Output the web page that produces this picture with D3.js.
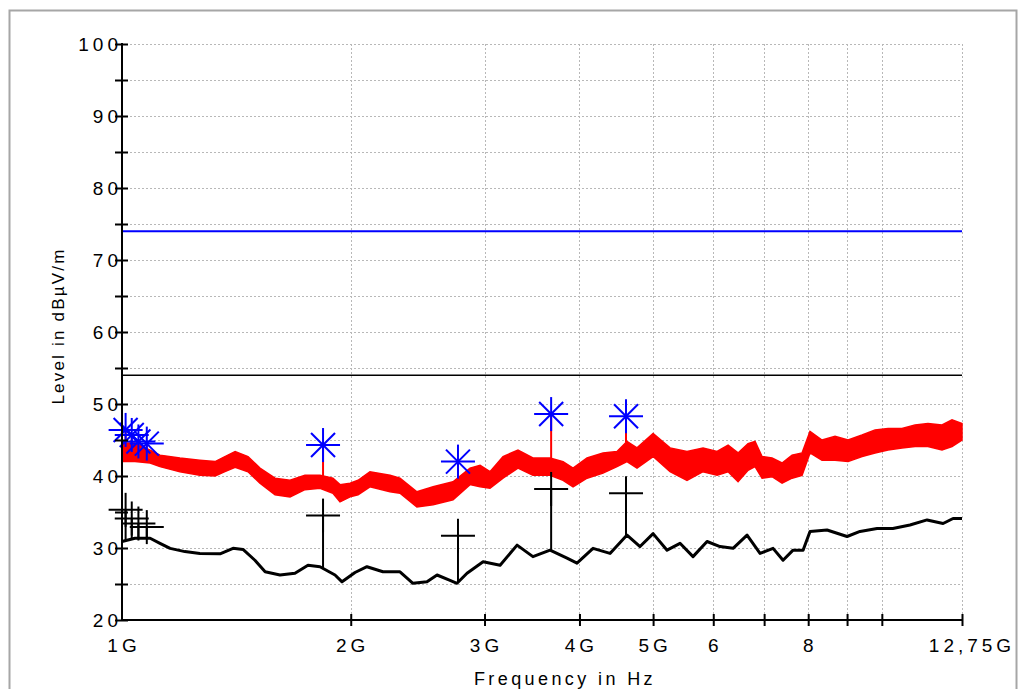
<!DOCTYPE html>
<html>
<head>
<meta charset="utf-8">
<script src="https://cdn.jsdelivr.net/npm/d3@7"></script>
<style>
  html, body { margin: 0; padding: 0; background: #fff; }
  svg { display: block; font-family: "Liberation Sans", Arial, sans-serif; }
</style>
</head>
<body>
<svg class="chart" width="1022" height="689"></svg>
<script>
// peak trace (red band), read as upper / lower envelope, GHz vs dBuV/m
var peakFreq = [1.000, 1.040, 1.089, 1.122, 1.192, 1.266, 1.326, 1.366, 1.409, 1.465, 1.519, 1.590, 1.664, 1.741, 1.822, 1.895, 1.936, 1.996, 2.045, 2.120, 2.253, 2.322, 2.444, 2.567, 2.727,
    2.871, 2.960, 3.050, 3.173, 3.320, 3.474, 3.659, 3.806, 3.923, 4.093, 4.296, 4.482, 4.620, 4.762, 5.000, 5.264, 5.541, 5.817, 6.070, 6.276, 6.468, 6.667, 6.810, 6.956, 7.170, 7.391, 7.618, 7.852,
    8.044, 8.342, 8.678, 9.028, 9.419, 9.797, 10.19, 10.63, 11.06, 11.50, 12.00, 12.37, 12.75];
var peakHi = [44.6, 44.6, 43.6, 42.9, 42.5, 42.2, 42.0, 42.7, 43.4, 42.7, 41.1, 39.7, 39.4, 40.1, 40.1, 39.7, 38.8, 39.0, 39.4, 40.6, 40.1, 39.7, 37.8, 38.5, 39.2,
    41.1, 41.5, 40.6, 42.7, 43.6, 42.5, 42.5, 42.0, 41.1, 42.5, 43.2, 43.4, 44.8, 43.9, 45.9, 43.9, 43.4, 43.9, 43.4, 44.3, 43.2, 44.5, 44.8, 42.7, 42.5, 41.8, 42.9, 43.2,
    46.2, 45.0, 45.5, 45.0, 45.7, 46.4, 46.6, 46.6, 47.1, 47.3, 47.1, 47.8, 47.3];
var peakLo = [42.0, 42.0, 41.8, 41.3, 40.6, 40.1, 40.0, 40.6, 41.2, 40.6, 39.0, 37.4, 37.1, 38.1, 38.3, 37.6, 36.4, 37.1, 37.4, 38.5, 37.8, 37.6, 35.7, 36.0, 36.7,
    38.8, 38.5, 38.3, 39.7, 41.1, 40.1, 40.1, 39.4, 38.5, 39.7, 40.4, 41.3, 42.0, 41.1, 42.7, 40.6, 39.4, 40.6, 40.1, 40.6, 39.2, 40.8, 41.3, 39.7, 39.9, 39.0, 39.7, 40.1,
    43.2, 42.2, 42.2, 42.0, 42.7, 43.2, 43.6, 43.9, 44.1, 44.1, 43.6, 44.1, 45.0];

// average trace (black)
var avgFreq = [1.000, 1.040, 1.089, 1.122, 1.157, 1.210, 1.266, 1.346, 1.400, 1.443, 1.496, 1.543, 1.614, 1.689, 1.757, 1.822, 1.907, 1.948, 2.026, 2.101, 2.205, 2.322, 2.415, 2.520, 2.598, 2.702, 2.760, 2.845, 2.987, 3.145, 3.311, 3.474, 3.659, 3.852, 3.970, 4.168, 4.388, 4.620, 4.806, 5.000, 5.216, 5.425, 5.643, 5.888, 6.124, 6.371, 6.647, 6.914, 7.192, 7.413, 7.641, 7.877, 8.044, 8.470, 9.000, 9.361, 9.856, 10.34, 10.89, 11.47, 12.04, 12.41, 12.75];
var avgLevel = [30.9, 31.35, 31.35, 30.65, 29.95, 29.5, 29.25, 29.2, 29.95, 29.8, 28.3, 26.7, 26.25, 26.5, 27.6, 27.4, 26.25, 25.3, 26.6, 27.4, 26.7, 26.7, 25.1, 25.3, 26.25, 25.5, 25.1, 26.5, 28.1, 27.6, 30.4, 28.8, 29.7, 28.6, 27.9, 29.95, 29.25, 31.8, 30.2, 32.0, 29.7, 30.65, 28.8, 30.9, 30.2, 29.95, 31.8, 29.25, 29.95, 28.3, 29.7, 29.7, 32.3, 32.5, 31.6, 32.3, 32.7, 32.7, 33.2, 33.9, 33.4, 34.1, 34.1];

// final measurement markers
var markerFreq = [1.011, 1.030, 1.051, 1.078, 1.839, 2.768, 3.671, 4.606];
var peakMarks = [46.4, 45.7, 44.8, 44.5, 44.3, 42.0, 48.6, 48.3];
var avgMarks = [35.3, 34.1, 33.4, 32.9, 34.5, 31.7, 38.2, 37.6];

// limit lines
var peakLimit = 74;
var avgLimit = 54;

// axis ticks
var xTicks = [2, 3, 4, 5, 6, 7, 8, 9, 10, 12.75];
var xLabelKeys = [1, 2, 3, 4, 5, 6, 8, 12.75];
var xLabelText = ["1G", "2G", "3G", "4G", "5G", "6", "8", "12,75G"];
var yTicks = d3.range(20, 101, 5);

var svg = d3.select(".chart");
var plotLeft = 122, plotRight = 962, plotTop = 44, plotBottom = 620;

var x = d3.scaleLog().domain([1, 12.75]).range([plotLeft, plotRight]);
var y = d3.scaleLinear().domain([20, 100]).range([plotBottom, plotTop]);

// outer frame
svg.append("rect")
    .attr("x", 9.5).attr("y", 10.5)
    .attr("width", 1007).attr("height", 700)
    .attr("fill", "none")
    .attr("stroke", "#a6a6a6")
    .attr("stroke-width", 2);

// grid
var grid = svg.append("g").attr("stroke", "#b8b8b8").attr("stroke-width", 1).attr("stroke-dasharray", "2,2");
grid.selectAll(".gy").data(yTicks.slice(1)).enter().append("line")
    .attr("x1", plotLeft).attr("x2", plotRight)
    .attr("y1", function(d) { return Math.round(y(d)) + 0.5; })
    .attr("y2", function(d) { return Math.round(y(d)) + 0.5; });
grid.selectAll(".gx").data(xTicks).enter().append("line")
    .attr("y1", plotTop).attr("y2", plotBottom)
    .attr("x1", function(d) { return Math.round(x(d)) + 0.5; })
    .attr("x2", function(d) { return Math.round(x(d)) + 0.5; });

// limits
svg.append("line")
    .attr("x1", plotLeft).attr("x2", plotRight)
    .attr("y1", y(peakLimit)).attr("y2", y(peakLimit))
    .attr("stroke", "#0000ff").attr("stroke-width", 2);
svg.append("line")
    .attr("x1", plotLeft).attr("x2", plotRight)
    .attr("y1", y(avgLimit)).attr("y2", y(avgLimit))
    .attr("stroke", "#000").attr("stroke-width", 1.5);

function interp(fs, vs, f) {
    var i = d3.bisectLeft(fs, f);
    if (i <= 0) return vs[0];
    if (i >= fs.length) return vs[vs.length - 1];
    var t = (Math.log(f) - Math.log(fs[i - 1])) / (Math.log(fs[i]) - Math.log(fs[i - 1]));
    return vs[i - 1] + t * (vs[i] - vs[i - 1]);
}

// peak band
var peakData = peakFreq.map(function(f, i) { return {f: f, hi: peakHi[i], lo: peakLo[i]}; });
var area = d3.area()
    .x(function(d) { return x(d.f); })
    .y0(function(d) { return y(d.lo); })
    .y1(function(d) { return y(d.hi); });
svg.append("path")
    .datum(peakData)
    .attr("d", area)
    .attr("fill", "#ff0000")
    .attr("stroke", "#ff0000")
    .attr("stroke-width", 1.5)
    .attr("stroke-linejoin", "miter");

// red sticks
svg.selectAll(".pstick").data(markerFreq).enter().append("line")
    .attr("x1", function(d) { return x(d); })
    .attr("x2", function(d) { return x(d); })
    .attr("y1", function(d, i) { return y(peakMarks[i]); })
    .attr("y2", function(d) { return y(interp(peakFreq, peakHi, d)); })
    .attr("stroke", "#ff0000").attr("stroke-width", 2);

// average trace
var line = d3.line()
    .x(function(d, i) { return x(avgFreq[i]); })
    .y(function(d) { return y(d); });
svg.append("path")
    .datum(avgLevel)
    .attr("d", line)
    .attr("fill", "none")
    .attr("stroke", "#000")
    .attr("stroke-width", 3)
    .attr("stroke-linejoin", "round");

// black sticks + crosses
svg.selectAll(".astick").data(markerFreq).enter().append("line")
    .attr("x1", function(d) { return x(d); })
    .attr("x2", function(d) { return x(d); })
    .attr("y1", function(d, i) { return y(avgMarks[i]); })
    .attr("y2", function(d) { return y(interp(avgFreq, avgLevel, d)); })
    .attr("stroke", "#000").attr("stroke-width", 2);

var cross = svg.selectAll(".cross").data(markerFreq).enter().append("g")
    .attr("transform", function(d, i) { return "translate(" + x(d) + "," + y(avgMarks[i]) + ")"; })
    .attr("stroke", "#000").attr("stroke-width", 2);
cross.append("line").attr("x1", -17).attr("x2", 17);
cross.append("line").attr("y1", -17).attr("y2", 17);

// asterisks
var star = svg.selectAll(".star").data(markerFreq).enter().append("g")
    .attr("transform", function(d, i) { return "translate(" + x(d) + "," + y(peakMarks[i]) + ")"; })
    .attr("stroke", "#0000ff").attr("stroke-width", 2);
star.append("line").attr("x1", -17).attr("x2", 17);
star.append("line").attr("y1", -17).attr("y2", 17);
star.append("line").attr("x1", -12).attr("y1", -12).attr("x2", 12).attr("y2", 12);
star.append("line").attr("x1", -12).attr("y1", 12).attr("x2", 12).attr("y2", -12);

// y axis
var yAxis = d3.axisLeft(y).tickValues(yTicks).tickSize(7).tickPadding(6)
    .tickFormat(function(d) { return d % 10 === 0 ? d : ""; });
var gy = svg.append("g").attr("transform", "translate(" + plotLeft + ",0)").call(yAxis);
gy.select(".domain").remove();
gy.selectAll(".tick line").attr("x2", -7).attr("x1", 6).attr("stroke-width", 2);
gy.selectAll("text").attr("font-size", 19).attr("letter-spacing", "4px")
    .attr("fill", "#000").attr("font-family", "Liberation Sans, Arial, sans-serif")
    .attr("x", 0);
svg.append("line").attr("x1", plotLeft).attr("x2", plotLeft).attr("y1", plotTop - 1).attr("y2", plotBottom + 1)
    .attr("stroke", "#000").attr("stroke-width", 2);

// x axis
var xAxis = d3.axisBottom(x).tickValues(xTicks).tickSize(6).tickFormat("");
var gx = svg.append("g").attr("transform", "translate(0," + plotBottom + ")").call(xAxis);
gx.select(".domain").remove();
gx.selectAll(".tick line").attr("y1", -6).attr("y2", 6).attr("stroke-width", 2);
svg.append("line").attr("x1", plotLeft - 1).attr("x2", plotRight + 1).attr("y1", plotBottom).attr("y2", plotBottom)
    .attr("stroke", "#000").attr("stroke-width", 2);

svg.selectAll(".xl").data(xLabelKeys).enter().append("text")
    .attr("x", function(d) { return x(d) + (d === 12.75 ? 10 : 2); })
    .attr("y", 652)
    .attr("text-anchor", "middle")
    .attr("font-size", 19)
    .attr("letter-spacing", "4px")
    .text(function(d, i) { return xLabelText[i]; });

// axis titles
svg.append("text")
    .attr("x", 565).attr("y", 685)
    .attr("text-anchor", "middle")
    .attr("font-size", 18)
    .attr("letter-spacing", "3.4px")
    .text("Frequency in Hz");
svg.append("text")
    .attr("transform", "translate(64,326) rotate(-90)")
    .attr("text-anchor", "middle")
    .attr("font-size", 17)
    .attr("letter-spacing", "2.2px")
    .text("Level in dBµV/m");
</script>
</body>
</html>
